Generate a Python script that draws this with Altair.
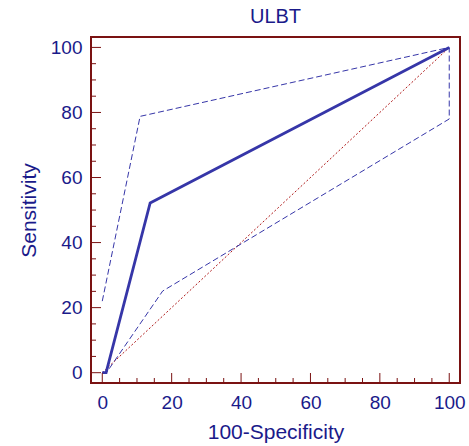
import altair as alt
import pandas as pd

# ROC curve and confidence bounds (100-Specificity, Sensitivity)
roc_x = [0, 1.1, 13.8, 100]
roc_y = [0, 0, 52.2, 100]
upper_x = [0, 10.9, 100]
upper_y = [22, 78.8, 100]
lower_x = [0, 1.2, 17.4, 100, 100]
lower_y = [0, 0, 25.1, 78.0, 100]
diag_x = [0, 100]
diag_y = [0, 100]

major_ticks = [0, 20, 40, 60, 80, 100]
minor_ticks = [v for v in range(0, 101, 5) if v % 20 != 0]

NAVY = "#1a1a8a"
FRAME = "#7a1212"
LINE = "#3636a8"
DIAG = "#b01a1a"
FONT = "Liberation Sans"

W, H = 369, 346


def frame(xs, ys, name):
    return pd.DataFrame({"x": xs, "y": ys, "o": list(range(len(xs))), "s": name})


roc = frame(roc_x, roc_y, "roc")
ci = pd.concat([frame(upper_x, upper_y, "upper"), frame(lower_x, lower_y, "lower")])
diag = frame(diag_x, diag_y, "diag")

xscale = alt.Scale(domain=[-3.25, 103.1], nice=False, zero=False)
yscale = alt.Scale(domain=[-3.17, 103.2], nice=False, zero=False)

xaxis = alt.Axis(values=major_ticks, ticks=False, domain=False, grid=False,
                 labelColor=NAVY, labelFontSize=19, labelFont=FONT, labelPadding=10,
                 title="100-Specificity", titleColor=NAVY, titleFontSize=21,
                 titleFont=FONT, titleFontWeight="normal", titlePadding=9)
yaxis = alt.Axis(values=major_ticks, ticks=False, domain=False, grid=False,
                 labelColor=NAVY, labelFontSize=19, labelFont=FONT, labelPadding=9,
                 title="Sensitivity", titleColor=NAVY, titleFontSize=21,
                 titleFont=FONT, titleFontWeight="normal", titlePadding=11)

base_diag = alt.Chart(diag).mark_line(color=DIAG, strokeWidth=1, strokeDash=[2, 2]).encode(
    x=alt.X("x:Q", scale=xscale, axis=xaxis),
    y=alt.Y("y:Q", scale=yscale, axis=yaxis),
    order="o:Q",
)

ci_layer = alt.Chart(ci).mark_line(color=LINE, strokeWidth=1, strokeDash=[6, 3]).encode(
    x=alt.X("x:Q", scale=xscale),
    y=alt.Y("y:Q", scale=yscale),
    detail="s:N",
    order="o:Q",
)

roc_layer = alt.Chart(roc).mark_line(color=LINE, strokeWidth=2.8).encode(
    x=alt.X("x:Q", scale=xscale),
    y=alt.Y("y:Q", scale=yscale),
    order="o:Q",
)

maj = pd.DataFrame({"v": major_ticks})
mnr = pd.DataFrame({"v": minor_ticks})

xmaj = alt.Chart(maj).mark_rule(color=FRAME, strokeWidth=1).encode(
    x=alt.X("v:Q", scale=xscale), y=alt.value(H), y2=alt.value(H - 10))
xmin = alt.Chart(mnr).mark_rule(color=FRAME, strokeWidth=1).encode(
    x=alt.X("v:Q", scale=xscale), y=alt.value(H), y2=alt.value(H - 5))
ymaj = alt.Chart(maj).mark_rule(color=FRAME, strokeWidth=1).encode(
    y=alt.Y("v:Q", scale=yscale), x=alt.value(0), x2=alt.value(10))
ymin = alt.Chart(mnr).mark_rule(color=FRAME, strokeWidth=1).encode(
    y=alt.Y("v:Q", scale=yscale), x=alt.value(0), x2=alt.value(5))

chart = alt.layer(base_diag, ci_layer, roc_layer, xmaj, xmin, ymaj, ymin).properties(
    width=W, height=H,
    title=alt.Title("ULBT", color=NAVY, fontSize=20, font=FONT, fontWeight="normal", offset=10),
    autosize=alt.AutoSizeParams(type="none"),
    padding={"left": 91, "top": 37, "right": 9, "bottom": 63},
    background="white",
).configure_view(stroke=FRAME, strokeWidth=2)

chart.save("out.html", embed_options={"renderer": "svg", "actions": False})
